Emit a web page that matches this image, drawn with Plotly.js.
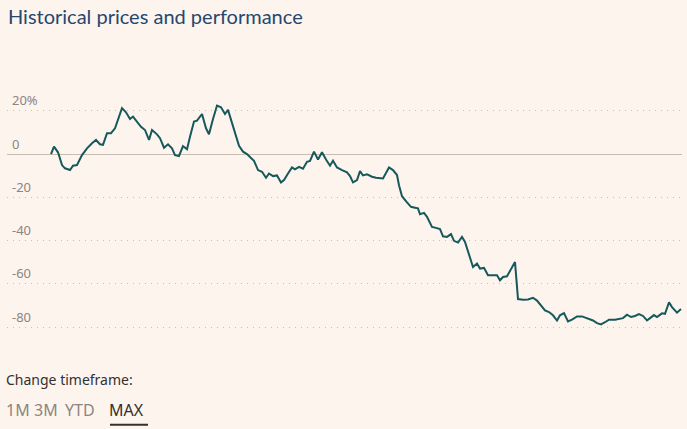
<!DOCTYPE html>
<html>
<head>
<meta charset="utf-8">
<script src="https://cdn.plot.ly/plotly-3.0.1.min.js"></script>
<style>
  html, body { margin: 0; padding: 0; background: #fdf4ee; }
  #chart { width: 687px; height: 429px; }
</style>
</head>
<body>
<div id="chart"></div>
<script>
// days since the first price, and % change vs the first price
var days = [0, 9, 21, 33, 42, 57, 66, 78, 93, 108, 123, 135, 147, 156, 168, 180, 192, 201, 213, 225,
  237, 246, 258, 270, 282, 294, 303, 318, 327, 339, 351, 363, 372, 384, 396, 408, 417, 429, 438, 453,
  465, 474, 486, 498, 510, 522, 531, 543, 552, 564, 576, 588, 600, 609, 621, 633, 645, 654, 666, 678,
  690, 699, 711, 723, 732, 744, 756, 768, 777, 789, 801, 813, 825, 837, 846, 858, 873, 888, 897, 906,
  918, 927, 936, 948, 963, 975, 996, 1005, 1014, 1026, 1038, 1044, 1053, 1068, 1080, 1092, 1101, 1107, 1119, 1128,
  1143, 1155, 1167, 1176, 1188, 1200, 1209, 1221, 1233, 1242, 1254, 1266, 1278, 1287, 1299, 1311, 1326, 1338, 1347, 1356,
  1368, 1380, 1392, 1401, 1416, 1431, 1446, 1458, 1470, 1482, 1494, 1506, 1518, 1527, 1539, 1551, 1563, 1578, 1593, 1605,
  1617, 1626, 1638, 1650, 1662, 1674, 1692, 1707, 1716, 1728, 1740, 1752, 1764, 1776, 1788, 1797, 1809, 1818, 1833, 1842,
  1854, 1863, 1878, 1890];

var change = [0, 3.4, 0.8, -5.1, -6.6, -7.4, -5.4, -5.1, -0.5, 2.6, 5, 6.5, 4.5, 4.2, 9.6, 9.6, 11.9, 15.7, 21.2, 19.3,
  16.2, 17.3, 15, 12.6, 11.1, 6.5, 11.1, 9.1, 7.3, 2.9, 4.5, 2.6, -0.5, -0.9, 3.7, 2.2, 8, 15, 15.4, 18.5,
  11.9, 9.1, 16.2, 22.4, 21.6, 18.5, 20.4, 14.5, 9.6, 3.8, 1.1, 0, -1.8, -3.1, -7.4, -8.2, -11, -9, -10.2, -9.9,
  -13.1, -12, -9, -6.2, -7.1, -5.9, -6.8, -3.6, -3.2, 1.1, -2.5, 0.8, -2.5, -5.4, -3.1, -6.2, -7.4, -8.5, -10.2, -13.1,
  -12, -7.9, -9.9, -9.4, -10.5, -11, -11.3, -8.5, -6.2, -7.4, -9.7, -14.4, -19.5, -22.3, -24.4, -24.8, -25.1, -27.8, -27.2, -29,
  -33.7, -34.1, -34.7, -38, -38.3, -37, -40.1, -40.9, -38.3, -40.6, -46.8, -52.2, -50.6, -52.9, -52.6, -56, -56, -56, -58.3, -56.8,
  -56.5, -52.9, -49.9, -67, -67.3, -67.2, -66.4, -67.7, -69.9, -72.2, -73, -74.5, -76.9, -74.5, -73.5, -77.3, -76.5, -75, -75, -75.6,
  -76.2, -76.9, -78.1, -78.7, -77.7, -76.5, -76.5, -76, -75.8, -74.2, -75.3, -74.8, -73.9, -74.8, -76.9, -75.8, -74.4, -75.3, -73.6, -73.8,
  -68.5, -70.7, -73.3, -71.6];

var tickVals = [20, 0, -20, -40, -60, -80];
var tickText = ['20%', '0', '-20', '-40', '-60', '-80'];
var timeframes = ['1M', '3M', 'YTD', 'MAX'];
var timeframeX = [-0.004, 0.0371, 0.083, 0.1482];

var start = Date.UTC(2019, 2, 1);
var dayMs = 86400000;
var dates = days.map(function (d) { return new Date(start + d * dayMs); });

var trace = {
  x: dates,
  y: change,
  type: 'scatter',
  mode: 'lines',
  line: { color: '#16595b', width: 2 },
  hoverinfo: 'skip'
};

var annotations = [{
  text: 'Change timeframe:',
  xref: 'paper', yref: 'paper',
  x: -0.004, y: -0.176, xanchor: 'left', yanchor: 'middle',
  showarrow: false,
  font: { size: 14, color: '#33302e' }
}];
timeframes.forEach(function (t, i) {
  var active = i === timeframes.length - 1;
  annotations.push({
    text: t,
    xref: 'paper', yref: 'paper',
    x: timeframeX[i], y: -0.294, xanchor: 'left', yanchor: 'middle',
    showarrow: false,
    font: { size: 16, color: active ? '#33302e' : '#8c8580' }
  });
});

var layout = {
  width: 687,
  height: 429,
  paper_bgcolor: '#fdf4ee',
  plot_bgcolor: '#fdf4ee',
  margin: { l: 7, r: 5, t: 80, b: 94 },
  showlegend: false,
  font: { family: 'Noto Sans, sans-serif', color: '#33302e' },
  title: {
    text: 'Historical prices and performance',
    font: { family: 'Lato, sans-serif', size: 20, color: '#26476e' },
    x: 0, xref: 'paper', xanchor: 'left',
    y: 1, yref: 'container', yanchor: 'top', pad: { t: 10, l: 1 }
  },
  xaxis: {
    type: 'date',
    range: [new Date(start - 132 * dayMs), new Date(start + 1893 * dayMs)],
    showgrid: false,
    showticklabels: false,
    zeroline: false,
    showline: false,
    ticks: ''
  },
  yaxis: {
    range: [-83.6, 34.2],
    tickvals: tickVals,
    ticktext: tickText,
    ticklabelposition: 'inside',
    ticklabelshift: -10,
    ticklabelstandoff: 2,
    tickfont: { size: 13, color: '#8c8580' },
    showgrid: true,
    gridcolor: '#c9beb4',
    griddash: '1px,5px',
    gridwidth: 1,
    zeroline: true,
    zerolinecolor: '#c9bdb2',
    zerolinewidth: 1,
    showline: false,
    ticks: ''
  },
  annotations: annotations,
  shapes: [
    {
      type: 'line',
      xref: 'paper', yref: 'paper',
      x0: 0.1526, x1: 0.2089, y0: -0.352, y1: -0.352,
      line: { color: '#33302e', width: 2 }
    }
  ]
};

Plotly.newPlot('chart', [trace], layout, { displayModeBar: false, staticPlot: true });
</script>
</body>
</html>
